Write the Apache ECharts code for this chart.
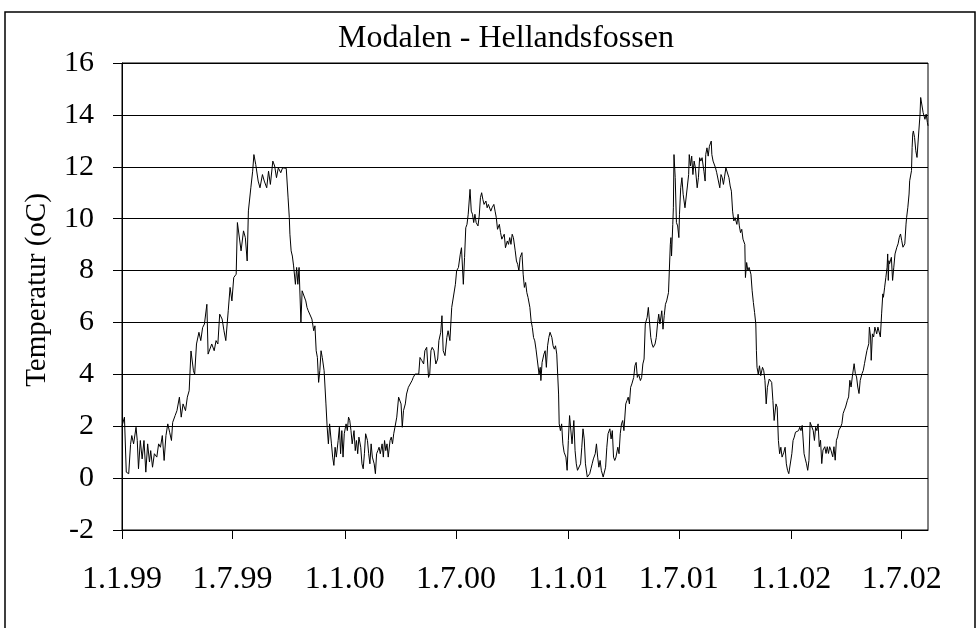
<!DOCTYPE html>
<html>
<head>
<meta charset="utf-8">
<script src="https://cdn.jsdelivr.net/npm/echarts@6/dist/echarts.min.js"></script>
<style>html,body{margin:0;padding:0;background:#fff}#c{width:977px;height:628px}</style>
</head>
<body>
<div id="c"></div>
<script>
// Days since 1.1.99 and water temperature (oC)
const days = [0,4,7,11,14,16,19,23,25,27,30,33,36,39,42,45,47,50,53,57,60,63,66,69,72,75,78,81,83,87,90,94,97,100,104,107,110,113,117,119,122,126,129,132,135,139,141,144,147,151,154,157,160,164,167,170,174,177,180,183,187,189,192,195,199,202,205,207,211,214,216,219,223,
226,230,233,237,240,243,247,250,253,256,260,263,266,269,272,274,275,277,279,281,284,286,288,290,293,295,298,301,303,305,308,311,314,316,318,320,322,324,326,328,331,334,336,338,340,343,345,347,349,351,354,356,358,360,362,364,367,369,371,373,375,377,380,382,384,386,388,391,393,395,397,399,402,404,406,408,410,413,415,417,419,421,423,426,428,430,432,434,436,439,441,443,445,447,450,453,
457,459,461,464,466,469,472,475,477,480,483,486,488,491,494,496,499,502,504,506,508,511,514,517,519,522,524,526,529,532,534,537,540,543,546,548,551,554,556,559,561,563,565,567,570,572,574,576,578,580,583,585,587,589,591,593,596,598,600,602,604,606,609,611,613,615,618,620,622,624,626,628,631,633,635,637,639,641,644,646,648,650,652,655,657,659,661,663,665,668,670,672,674,676,678,681,683,
685,686,688,691,693,695,697,699,701,704,706,708,710,712,715,716,718,720,722,724,727,729,731,733,735,737,740,742,744,746,748,751,753,755,757,759,762,764,766,768,770,772,775,777,779,781,783,785,788,790,792,794,796,799,801,803,805,807,809,812,814,816,818,820,822,825,827,829,831,833,835,838,840,842,844,846,849,851,853,855,857,860,862,864,866,868,870,873,875,877,879,881,884,886,888,890,892,895,897,898,899,900,902,903,904,906,908,910,912,
913,915,917,919,922,924,926,928,929,931,933,935,937,939,942,944,946,948,950,953,955,956,958,960,962,965,966,968,970,972,974,976,979,981,983,985,987,989,992,994,996,998,1000,1002,1004,1007,1009,1011,1013,1015,1017,1020,1021,1023,1025,1027,1030,1032,1034,1036,1038,1039,1040,1042,1044,1046,1049,1051,1053,1055,1057,1060,1062,1064,1066,1068,1071,1073,1075,1077,1079,1081,1084,1086,1088,1090,1092,1094,1097,1099,1101,1103,1106,1108,1110,1112,1114,1117,1119,1121,1123,1125,1127,1130,1132,1134,1136,1138,1140,
1142,1144,1146,1148,1151,1153,1155,1157,1159,1161,1164,1166,1168,1170,1172,1174,1177,1179,1181,1183,1185,1188,1190,1192,1194,1196,1199,1201,1203,1205,1207,1209,1212,1214,1216,1218,1220,1223,1224,1226,1227,1229,1231,1233,1236,1238,1240,1242,1244,1246,1247,1249,1251,1253,1254,1255,1256,1257,1260,1262,1264,1266,1269,1271,1273,1275,1277,1279,1282,1284,1285,1287,1289,1290,1293,1294,1295,1296,1298,1300,1302,1305,1307,1308,1310,1312,1315,1317,1319,1320];
const temps = [2.0,2.35,0.23,0.17,1.3,1.64,1.32,1.96,1.45,0.36,1.45,0.74,1.45,0.23,1.32,0.62,1.06,0.42,0.94,0.81,1.32,1.19,1.64,0.68,1.64,2.09,1.77,1.45,2.15,2.41,2.6,3.12,2.35,2.86,2.6,3.12,3.37,4.9,4.14,4.0,5.17,5.62,5.3,5.8,5.94,6.7,4.78,4.72,5.17,4.91,5.3,5.17,6.32,6.13,5.68,5.3,6.45,7.35,6.83,7.73,7.86,9.85,9.91,8.76,9.53,9.27,8.37,10.3,11.19,11.83,12.47,12.09,11.45,
11.19,11.7,11.45,11.19,11.83,11.32,12.22,12.03,11.58,11.96,11.77,11.96,11.9,11.94,10.8,10.04,9.4,8.76,8.56,8.18,7.47,8.12,7.47,8.12,6.0,7.22,7.15,6.83,6.58,6.45,6.45,6.13,5.68,5.87,4.91,4.65,3.69,4.14,4.91,4.65,4.14,2.86,1.96,1.32,2.09,1.32,0.81,0.49,1.19,0.81,1.45,1.96,0.94,1.83,0.81,1.71,2.09,1.83,2.35,2.22,1.83,1.32,1.83,1.06,1.45,0.94,1.58,1.19,0.55,0.36,0.94,1.71,1.45,0.94,0.55,1.32,0.81,0.55,0.17,0.94,1.06,1.19,0.94,1.32,0.81,1.45,1.06,1.32,0.81,1.45,1.58,1.32,1.71,1.96,2.35,3.12,
2.86,1.96,2.6,2.86,3.24,3.5,3.5,3.76,3.88,4.01,4.01,4.01,4.65,4.53,4.4,4.91,5.04,3.88,4.01,4.91,5.04,4.91,4.4,4.59,5.3,5.62,6.26,4.91,4.72,5.42,5.68,5.3,6.58,6.64,7.47,7.99,8.12,8.63,8.88,7.47,8.5,9.65,9.78,10.17,11.13,10.29,10.17,9.85,10.17,9.85,9.72,10.1,10.81,11.0,10.74,10.55,10.68,10.42,10.55,10.49,10.29,10.42,10.55,10.29,10.04,9.59,9.78,9.46,9.21,9.14,9.4,8.88,9.14,9.01,9.27,9.01,9.4,9.27,8.76,8.37,8.24,7.99,8.5,8.69,7.86,7.35,7.54,7.15,6.96,6.58,6.06,5.81,5.42,5.29,4.97,4.91,4.01,
4.27,3.76,4.46,4.78,4.91,4.27,5.1,5.42,5.62,5.42,5.1,4.97,5.1,4.78,3.24,2.09,1.83,2.09,1.32,1.0,0.81,0.3,1.45,2.41,2.47,1.32,2.22,1.06,0.55,0.3,0.36,0.55,1.19,1.9,1.51,0.55,0.04,0.04,0.17,0.36,0.55,0.74,0.94,1.32,0.81,0.42,0.68,0.3,0.04,0.1,0.42,1.19,1.71,1.9,1.51,1.83,0.81,0.68,0.81,1.19,0.94,1.71,2.09,2.22,1.83,2.86,2.99,3.12,2.86,3.5,3.63,3.88,4.33,4.46,3.88,4.01,3.76,3.88,4.4,4.59,5.94,6.19,6.58,6.58,5.42,5.17,5.04,5.17,5.42,5.94,6.32,5.94,6.45,5.74,6.26,6.7,6.83,7.15,7.22,9.01,9.27,8.56,9.78,10.42,12.47,11.58,9.85,9.72,9.27,
10.17,11.19,11.58,10.94,10.42,10.42,11.26,11.7,12.47,12.03,12.41,11.7,12.22,11.96,11.19,11.58,12.35,12.22,12.35,11.83,11.45,12.47,12.73,12.41,12.79,12.99,12.47,12.22,12.28,11.96,11.77,11.83,11.19,11.7,11.58,11.32,11.64,11.96,11.9,11.58,11.26,11.06,10.29,9.91,10.04,9.78,10.17,9.72,9.46,9.59,9.21,9.01,7.73,8.31,7.99,8.12,7.86,7.22,6.77,6.38,5.94,4.91,4.27,4.01,4.33,3.95,4.27,4.14,3.76,2.86,3.5,3.82,3.88,3.69,2.99,2.22,2.86,2.73,1.45,0.94,1.19,0.81,1.0,1.19,0.55,0.3,0.17,0.23,0.94,1.45,1.58,1.77,1.83,1.83,1.96,1.83,2.03,0.94,0.74,0.55,0.3,0.68,2.15,2.22,1.83,1.45,1.96,1.83,2.09,
1.21,1.46,0.56,1.08,1.21,0.95,1.21,0.95,1.21,1.08,0.82,1.21,0.69,1.46,1.59,1.85,1.97,2.1,2.49,2.62,2.74,3.0,3.13,3.77,3.51,3.9,4.41,4.03,3.9,3.51,3.26,3.77,4.03,4.15,4.41,4.67,4.92,5.18,5.82,5.44,4.54,5.56,5.44,5.82,5.56,5.82,5.82,5.44,6.33,7.1,6.97,7.36,7.74,8.13,8.64,7.62,8.38,8.26,8.51,7.62,8.13,8.64,8.9,9.03,9.28,9.41,9.15,8.9,9.03,9.79,10.05,10.44,10.95,11.46,11.85,12.74,13.26,13.38,13.13,12.62,12.36,13.38,14.03,14.67,14.6,14.09,13.83,14.03,13.71,13.58];

// Axis ticks: days since 1.1.99 and their labels
const tickDays = [0,181,365,547,731,912,1096,1277];
const tickLabels = ['1.1.99','1.7.99','1.1.00','1.7.00','1.1.01','1.7.01','1.1.02','1.7.02'];
const titleText = 'Modalen - Hellandsfossen';
const yName = 'Temperatur (oC)';

const series = days.map((d, i) => [d, temps[i]]);
const font = '"Liberation Serif", "Times New Roman", serif';

const chart = echarts.init(document.getElementById('c'), null, {renderer: 'canvas'});
chart.setOption({
  animation: false,
  backgroundColor: '#fff',
  grid: {left: 122, right: 49, top: 63, bottom: 98, show: true, borderColor: '#000', borderWidth: 1, containLabel: false},
  xAxis: {
    type: 'value', min: 0, max: 1320,
    axisLine: {onZero: false, lineStyle: {color: '#000', width: 1}},
    axisTick: {show: true, inside: false, length: 9, lineStyle: {color: '#000'}, customValues: tickDays},
    axisLabel: {
      customValues: tickDays, margin: 34, color: '#000', fontFamily: font, fontSize: 32,
      formatter: v => tickLabels[tickDays.indexOf(v)] || ''
    },
    splitLine: {show: false}
  },
  yAxis: {
    type: 'value', min: -2, max: 16, interval: 2,
    axisLine: {show: true, onZero: false, lineStyle: {color: '#000', width: 1}},
    axisTick: {show: true, inside: false, length: 9, lineStyle: {color: '#000'}},
    axisLabel: {margin: 28, color: '#000', fontFamily: font, fontSize: 30},
    splitLine: {show: true, lineStyle: {color: '#000', width: 1}}
  },
  series: [{
    type: 'line', data: series, showSymbol: false, symbol: 'none',
    lineStyle: {color: '#000', width: 1}, itemStyle: {color: '#000'}
  }],
  graphic: [
    {type: 'rect', shape: {x: 5, y: 12, width: 970, height: 640}, style: {fill: 'none', stroke: '#000', lineWidth: 1.5}, silent: true},
    {type: 'text', x: 506, y: 23, style: {text: titleText, fontFamily: font, fontSize: 32, fill: '#000', align: 'center', verticalAlign: 'top'}},
    {type: 'text', x: 37, y: 290, rotation: Math.PI / 2, style: {text: yName, fontFamily: font, fontSize: 29, fill: '#000', align: 'center', verticalAlign: 'middle'}}
  ]
});
</script>
</body>
</html>
